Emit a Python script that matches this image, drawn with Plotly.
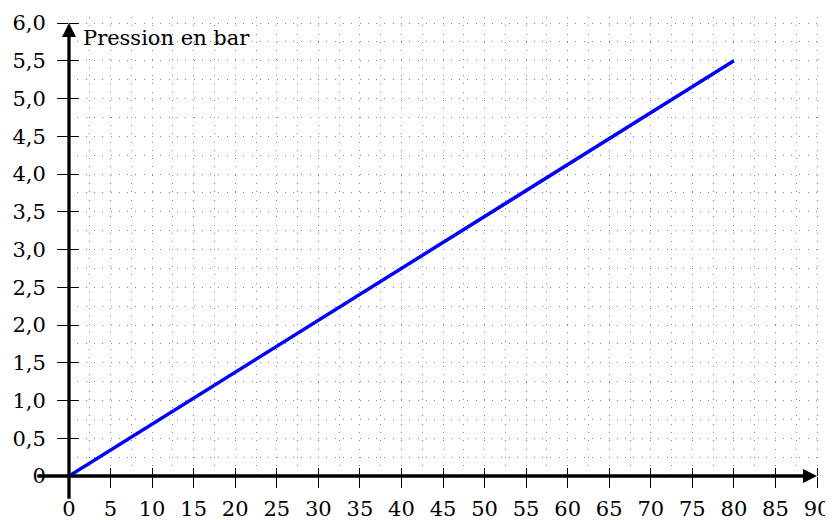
import plotly.graph_objects as go

# ---- data ----
psi = [0, 80]
bar = [0, 5.5]

x_tick_vals = [0, 5, 10, 15, 20, 25, 30, 35, 40, 45, 50, 55, 60, 65, 70, 75, 80, 85, 90]
x_tick_text = ["0", "5", "10", "15", "20", "25", "30", "35", "40", "45", "50", "55",
               "60", "65", "70", "75", "80", "85", "90"]
y_tick_vals = [0, 0.5, 1.0, 1.5, 2.0, 2.5, 3.0, 3.5, 4.0, 4.5, 5.0, 5.5, 6.0]
y_tick_text = ["0", "0,5", "1,0", "1,5", "2,0", "2,5", "3,0", "3,5", "4,0", "4,5",
               "5,0", "5,5", "6,0"]

x_label = "Pression en P. S. I."
y_label = "Pression en bar"

FONT = "DejaVu Serif"
GRID = dict(griddash="1px,7.3px", gridcolor="#8a8a8a", gridwidth=1)

W, H = 825, 512          # page body has an 8px margin
X0, Y0 = 61, 468         # pixel position of the origin inside the figure
PX_X, PX_Y = 8.311, 75.5  # pixels per unit

XR = [0, 90.6]
YR = [0, 6.08]

fig = go.Figure()
fig.add_trace(go.Scatter(x=psi, y=bar, mode="lines",
                         line=dict(color="#0000ff", width=3.5),
                         hoverinfo="skip", showlegend=False))
# invisible trace for the overlay axes (inner tick halves)
fig.add_trace(go.Scatter(x=[0], y=[0], xaxis="x2", yaxis="y2", mode="markers",
                         marker=dict(opacity=0), hoverinfo="skip", showlegend=False))

fig.update_layout(
    width=W, height=H,
    margin=dict(l=X0, r=W - X0 - round(XR[1] * PX_X), t=Y0 - round(YR[1] * PX_Y), b=H - Y0),
    paper_bgcolor="white", plot_bgcolor="white",
    font=dict(family=FONT, size=21, color="black"),
    xaxis=dict(range=XR, tickmode="array", tickvals=x_tick_vals, ticktext=x_tick_text,
               ticks="outside", ticklen=11, tickwidth=1.2, tickcolor="black",
               ticklabelstandoff=3, showline=False, zeroline=False, automargin=False,
               showgrid=True, **GRID,
               minor=dict(tickmode="linear", tick0=0, dtick=2.5, showgrid=True, ticks="", **GRID)),
    yaxis=dict(range=YR, tickmode="array", tickvals=y_tick_vals, ticktext=y_tick_text,
               ticks="outside", ticklen=11, tickwidth=1.2, tickcolor="black",
               ticklabelstandoff=7, showline=False, zeroline=False, automargin=False,
               showgrid=True, **GRID,
               minor=dict(tickmode="linear", tick0=0, dtick=0.25, showgrid=True, ticks="", **GRID)),
    xaxis2=dict(range=XR, overlaying="x", anchor="y2", side="bottom", automargin=False,
                tickmode="array", tickvals=x_tick_vals[1:], ticks="inside", ticklen=8,
                tickwidth=1.2, tickcolor="black", showticklabels=False,
                showgrid=False, zeroline=False, showline=False),
    yaxis2=dict(range=YR, overlaying="y", anchor="x2", side="left", automargin=False,
                tickmode="array", tickvals=y_tick_vals[1:], ticks="inside", ticklen=10,
                tickwidth=1.2, tickcolor="black", showticklabels=False,
                showgrid=False, zeroline=False, showline=False),
)

# axes drawn as arrows
fig.add_annotation(x=90, y=0, ax=-4, ay=0, axref="x", ayref="y", xref="x", yref="y",
                   text="", showarrow=True, arrowhead=2, arrowsize=0.85, arrowwidth=3.3,
                   arrowcolor="black", standoff=0, startstandoff=0)
fig.add_annotation(x=0, y=6.0, ax=0, ay=-0.32, axref="x", ayref="y", xref="x", yref="y",
                   text="", showarrow=True, arrowhead=2, arrowsize=0.85, arrowwidth=3.3,
                   arrowcolor="black", standoff=0, startstandoff=0)

# axis titles
fig.add_annotation(x=1.4, y=5.8, xref="x", yref="y", text=y_label, showarrow=False,
                   xanchor="left", yanchor="middle", font=dict(family=FONT, size=21))
fig.add_annotation(x=91.4, y=0.3, xref="x", yref="y", text=x_label, showarrow=False,
                   xanchor="right", yanchor="middle", font=dict(family=FONT, size=21))

fig.write_html("out.html")
